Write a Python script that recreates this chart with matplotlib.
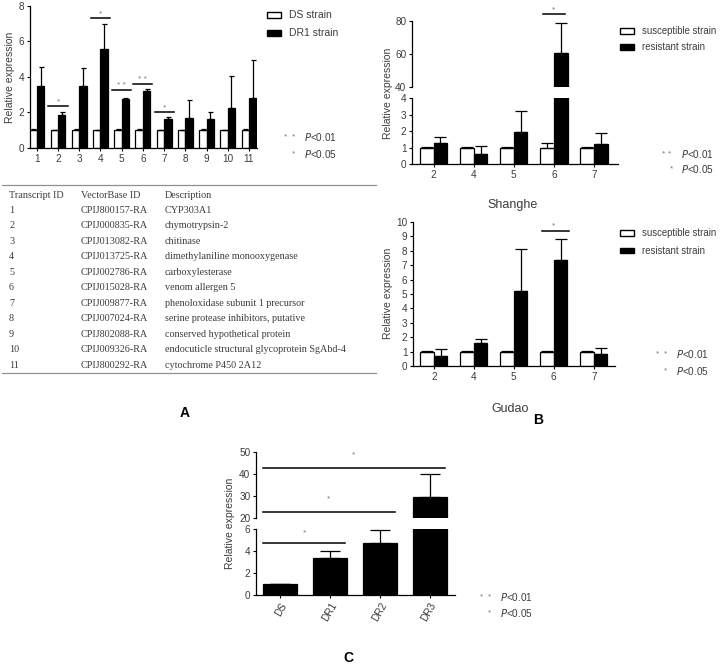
import matplotlib
matplotlib.use("Agg")
import matplotlib.pyplot as plt
from matplotlib.patches import Rectangle

W, H = 720, 668
GREY = "#3c3c3c"
STAR = "#777777"

# ---- panel A data ----
a_ids = ["1", "2", "3", "4", "5", "6", "7", "8", "9", "10", "11"]
a_ds = [1.0, 1.0, 1.0, 1.0, 1.0, 1.0, 1.0, 1.0, 1.0, 1.0, 1.0]
a_ds_err = [0.06, 0.04, 0.05, 0.04, 0.06, 0.05, 0.04, 0.04, 0.05, 0.04, 0.05]
a_dr1 = [3.5, 1.85, 3.5, 5.6, 2.78, 3.22, 1.65, 1.7, 1.62, 2.28, 2.82]
a_dr1_err = [1.08, 0.18, 0.98, 1.4, 0.04, 0.13, 0.1, 1.02, 0.4, 1.77, 2.13]
a_sig_ids = [2, 4, 5, 6, 7]
a_sig_marks = ["*", "*", "* *", "* *", "*"]
a_sig_y = [2.35, 7.3, 3.25, 3.6, 2.03]

# table
t_vb = ["CPIJ800157-RA", "CPIJ000835-RA", "CPIJ013082-RA", "CPIJ013725-RA",
        "CPIJ002786-RA", "CPIJ015028-RA", "CPIJ009877-RA", "CPIJ007024-RA",
        "CPIJ802088-RA", "CPIJ009326-RA", "CPIJ800292-RA"]
t_desc = ["CYP303A1", "chymotrypsin-2", "chitinase", "dimethylaniline monooxygenase",
          "carboxylesterase", "venom allergen 5", "phenoloxidase subunit 1 precursor",
          "serine protease inhibitors, putative", "conserved hypothetical protein",
          "endocuticle structural glycoprotein SgAbd-4", "cytochrome P450 2A12"]

# ---- panel B data ----
b_genes = ["2", "4", "5", "6", "7"]
sh_sus = [1.0, 1.0, 1.0, 1.0, 1.0]
sh_sus_err = [0.03, 0.03, 0.03, 0.3, 0.03]
sh_res = [1.26, 0.61, 1.93, 60.5, 1.22]
sh_res_err = [0.4, 0.49, 1.27, 18.5, 0.65]
gd_sus = [1.0, 1.0, 1.0, 1.0, 1.0]
gd_sus_err = [0.06, 0.06, 0.06, 0.05, 0.03]
gd_res = [0.69, 1.57, 5.23, 7.36, 0.81]
gd_res_err = [0.49, 0.3, 2.89, 1.44, 0.46]

# ---- panel C data ----
c_strains = ["DS", "DR1", "DR2", "DR3"]
c_vals = [1.0, 3.4, 4.78, 29.9]
c_err = [0.05, 0.65, 1.16, 10.3]
c_sig_to = [3, 2, 1]
c_sig_y = [42.7, 22.7, 4.73]

plt.rcParams['font.family'] = ['Liberation Sans', 'DejaVu Sans']

fig = plt.figure(figsize=(W / 100, H / 100), dpi=100)


def px_axes(left, top, right, bottom):
    return fig.add_axes([left / W, 1 - bottom / H, (right - left) / W, (bottom - top) / H])


def style(ax, bottom=True):
    for s in ["top", "right"]:
        ax.spines[s].set_visible(False)
    ax.spines["left"].set_linewidth(0.9)
    ax.spines["bottom"].set_linewidth(0.9)
    ax.tick_params(labelsize=7.2, length=2.5, width=0.8, pad=1.5,
                   colors="black", labelcolor=GREY)
    if not bottom:
        ax.spines["bottom"].set_visible(False)
        ax.tick_params(axis="x", bottom=False, labelbottom=False)


def pair_bars(ax, xs, v1, e1, v2, e2, w, cap):
    x1 = [x - w / 2 for x in xs]
    x2 = [x + w / 2 for x in xs]
    ax.bar(x1, v1, w, color="white", edgecolor="black", linewidth=0.9)
    ax.errorbar(x1, v1, yerr=[[0] * len(v1), e1], fmt="none", ecolor="black",
                elinewidth=0.9, capsize=cap, capthick=0.9)
    ax.bar(x2, v2, w, color="black", edgecolor="black", linewidth=0.9)
    ax.errorbar(x2, v2, yerr=[[0] * len(v2), e2], fmt="none", ecolor="black",
                elinewidth=0.9, capsize=cap, capthick=0.9)


def legend_boxes(x, y1, y2, labels, fs=7.5):
    for y, fc, lab in [(y1, "white", labels[0]), (y2, "black", labels[1])]:
        fig.add_artist(Rectangle((x / W, 1 - (y + 2.5) / H), 14 / W, 5 / H,
                                 facecolor=fc, edgecolor="black", linewidth=1.0,
                                 transform=fig.transFigure))
        fig.text((x + 22) / W, 1 - y / H, lab, fontsize=fs, color=GREY, va="center")


def p_legend(xs, y1, y2):
    fig.text(xs / W, 1 - y1 / H, "*", fontsize=6, color=STAR, ha="center", va="center")
    fig.text((xs + 7) / W, 1 - y1 / H, "*", fontsize=6, color=STAR, ha="center", va="center")
    fig.text((xs + 18) / W, 1 - y1 / H, "$P$<0.01", fontsize=7.2, color=GREY, va="center")
    fig.text((xs + 8) / W, 1 - y2 / H, "*", fontsize=6, color=STAR, ha="center", va="center")
    fig.text((xs + 18) / W, 1 - y2 / H, "$P$<0.05", fontsize=7.2, color=GREY, va="center")


# ================= Panel A =================
axA = px_axes(30, 6, 257, 148)
xa = list(range(1, 12))
pair_bars(axA, xa, a_ds, a_ds_err, a_dr1, a_dr1_err, 0.35, 1.8)
axA.set_xlim(0.68, 11.38)
axA.set_ylim(0, 8)
axA.set_yticks([0, 2, 4, 6, 8])
axA.set_xticks(xa)
axA.set_xticklabels(a_ids)
style(axA)
axA.set_ylabel("Relative expression", fontsize=7.5, color=GREY, labelpad=3)
for gid, mark, y in zip(a_sig_ids, a_sig_marks, a_sig_y):
    axA.plot([gid - 0.45, gid + 0.45], [y, y], color="black", lw=1.1, clip_on=False)
    axA.text(gid, y + 0.05, mark, fontsize=6, color=STAR, ha="center", va="bottom")
legend_boxes(267, 15, 33, ["DS strain", "DR1 strain"])
p_legend(286, 137, 154)

# table
axT = px_axes(0, 180, 380, 380)
axT.set_xlim(0, 380)
axT.set_ylim(380, 180)
axT.axis("off")
axT.plot([2, 376], [185, 185], color="#909090", lw=0.9)
axT.plot([2, 376], [372.5, 372.5], color="#909090", lw=0.9)
tfont = dict(fontsize=7.3, color=GREY, va="center", family=["Liberation Serif", "DejaVu Serif"])
axT.text(9, 195, "Transcript ID", **tfont)
axT.text(81, 195, "VectorBase ID", **tfont)
axT.text(165, 195, "Description", **tfont)
for i, (tid, vb, de) in enumerate(zip(a_ids, t_vb, t_desc)):
    yy = 210 + i * 15.5
    axT.text(9, yy, tid, **tfont)
    axT.text(81, yy, vb, **tfont)
    axT.text(165, yy, de, **tfont)

fig.text(185 / W, 1 - 413 / H, "A", fontsize=10, fontweight="bold", ha="center", va="center")

# ================= Panel B (Shanghe) =================
xb = list(range(len(b_genes)))
axBu = px_axes(412, 21, 618, 87.3)
axBl = px_axes(412, 98.3, 618, 164)
for ax in (axBu, axBl):
    pair_bars(ax, xb, sh_sus, sh_sus_err, sh_res, sh_res_err, 0.34, 4.3)
    ax.set_xlim(-0.54, 4.6)
axBu.set_ylim(40, 80)
axBu.set_yticks([40, 60, 80])
axBl.set_ylim(0, 4)
axBl.set_yticks([0, 1, 2, 3, 4])
axBl.set_xticks(xb)
axBl.set_xticklabels(b_genes)
style(axBu, bottom=False)
style(axBl)
axBu.plot([3 - 0.28, 3 + 0.28], [84, 84], color="black", lw=1.1, clip_on=False)
axBu.text(3, 84.6, "*", fontsize=6, color=STAR, ha="center", va="bottom")
fig.text(388 / W, 1 - 93 / H, "Relative expression", fontsize=7.5, color=GREY,
         rotation=90, ha="center", va="center")
legend_boxes(620, 31, 47, ["susceptible strain", "resistant strain"], fs=6.9)
p_legend(663, 154, 169)
fig.text(513 / W, 1 - 205 / H, "Shanghe", fontsize=9, color=GREY, ha="center", va="center")

# ================= Panel B (Gudao) =================
axG = px_axes(413, 222, 615, 366)
pair_bars(axG, xb, gd_sus, gd_sus_err, gd_res, gd_res_err, 0.34, 4.3)
axG.set_xlim(-0.52, 4.53)
axG.set_ylim(0, 10)
axG.set_yticks(range(0, 11))
axG.set_xticks(xb)
axG.set_xticklabels(b_genes)
style(axG)
axG.plot([3 - 0.3, 3 + 0.38], [9.375, 9.375], color="black", lw=1.1, clip_on=False)
axG.text(3, 9.5, "*", fontsize=6, color=STAR, ha="center", va="bottom")
fig.text(388 / W, 1 - 293 / H, "Relative expression", fontsize=7.5, color=GREY,
         rotation=90, ha="center", va="center")
legend_boxes(620, 233, 251, ["susceptible strain", "resistant strain"], fs=6.9)
p_legend(658, 354, 371)
fig.text(510 / W, 1 - 409 / H, "Gudao", fontsize=9, color=GREY, ha="center", va="center")
fig.text(538 / W, 1 - 420 / H, "B", fontsize=10, fontweight="bold", ha="center", va="center")

# ================= Panel C =================
xc = list(range(len(c_strains)))
axCu = px_axes(256, 452.3, 455, 518.3)
axCl = px_axes(256, 529.3, 455, 595)
for ax in (axCu, axCl):
    ax.bar(xc, c_vals, 0.68, color="black", edgecolor="black", linewidth=0.9)
    ax.errorbar(xc, c_vals, yerr=[[0] * len(c_vals), c_err], fmt="none", ecolor="black",
                elinewidth=0.9, capsize=7, capthick=0.9)
    ax.set_xlim(-0.49, 3.51)
axCu.set_ylim(20, 50)
axCu.set_yticks([20, 30, 40, 50])
axCl.set_ylim(0, 6)
axCl.set_yticks([0, 2, 4, 6])
axCl.set_xticks(xc)
axCl.set_xticklabels(c_strains, rotation=60, ha="right", rotation_mode="anchor")
style(axCu, bottom=False)
style(axCl)
for to, y in zip(c_sig_to, c_sig_y):
    ax = axCu if y > 10 else axCl
    x0, x1 = -0.35, to + 0.3
    ax.plot([x0, x1], [y, y], color="black", lw=1.1, clip_on=False)
    off = 4.5 if y > 10 else 0.6
    ax.text((x0 + x1) / 2, y + off, "*", fontsize=6, color=STAR, ha="center", va="bottom")
fig.text(230 / W, 1 - 523 / H, "Relative expression", fontsize=7.5, color=GREY,
         rotation=90, ha="center", va="center")
p_legend(482, 597, 613)
fig.text(348 / W, 1 - 658 / H, "C", fontsize=10, fontweight="bold", ha="center", va="center")

fig.savefig("out.png", dpi=100, facecolor="white")
